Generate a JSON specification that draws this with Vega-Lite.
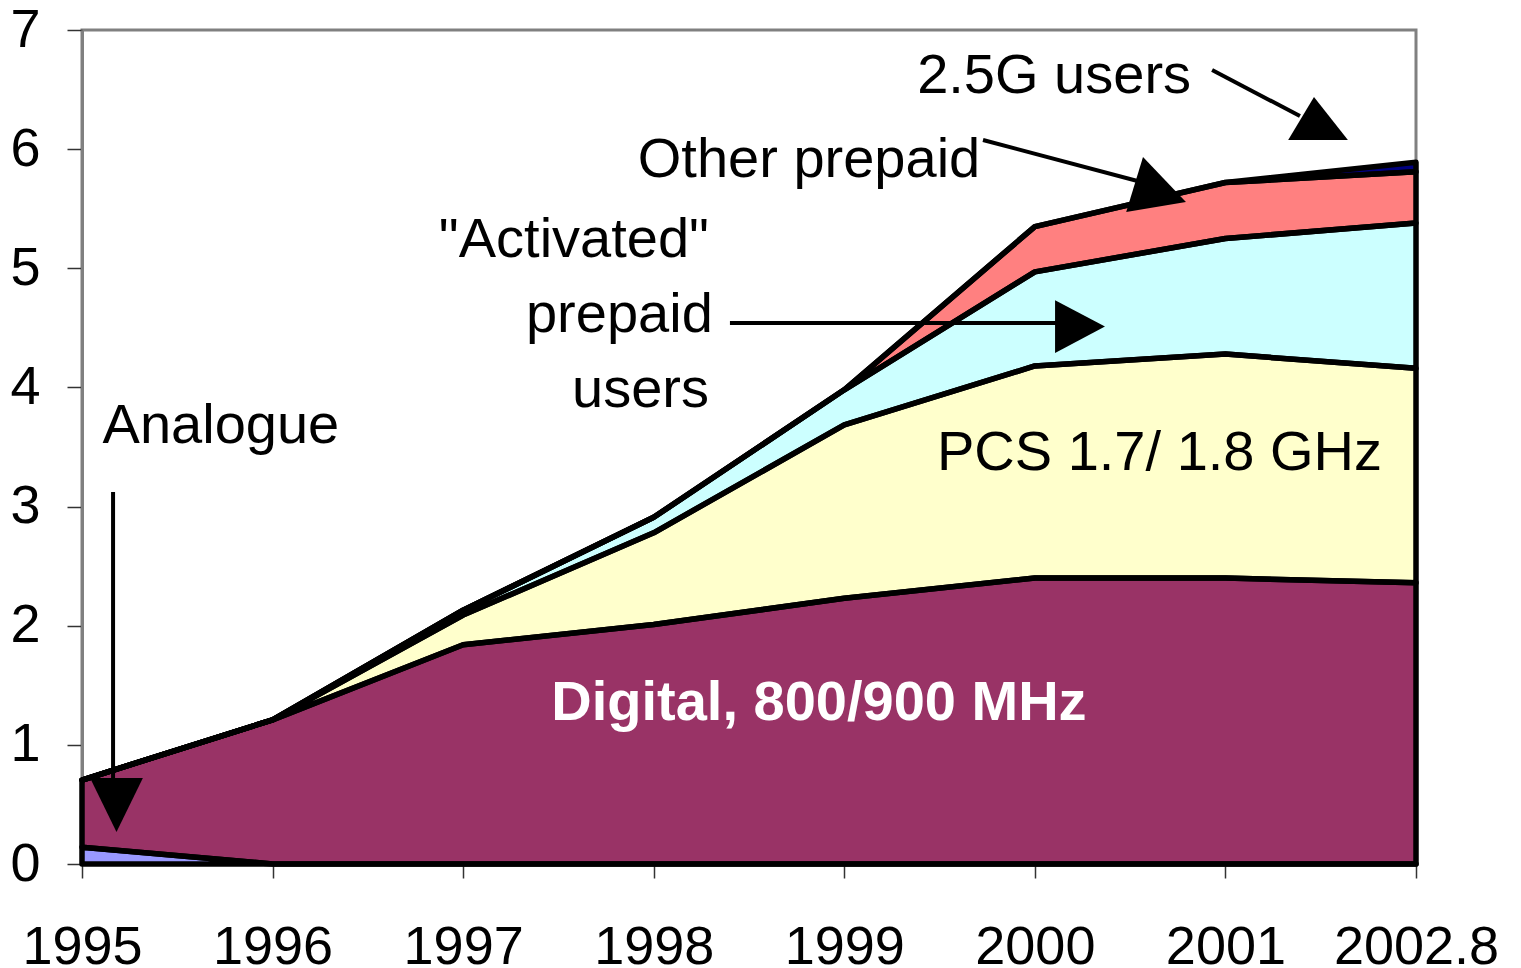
{
  "$schema": "https://vega.github.io/schema/vega-lite/v6.json",
  "width": 1334,
  "height": 834,
  "autosize": {"type": "none"},
  "padding": {"left": 82, "top": 30, "right": 105, "bottom": 104},
  "background": "white",
  "config": {
    "view": {"stroke": "#808080", "strokeWidth": 3},
    "axis": {
      "grid": false,
      "labelFont": "Liberation Sans",
      "labelFontSize": 54,
      "labelColor": "#000000",
      "tickColor": "#333333",
      "tickWidth": 1.5,
      "domainColor": "#808080",
      "domainWidth": 3,
      "title": null
    }
  },
  "datasets": {
    "series": [
      {"s": "Analogue", "ord": 0, "i": 0, "v": 0.14},
      {"s": "Analogue", "ord": 0, "i": 1, "v": 0},
      {"s": "Analogue", "ord": 0, "i": 2, "v": 0},
      {"s": "Analogue", "ord": 0, "i": 3, "v": 0},
      {"s": "Analogue", "ord": 0, "i": 4, "v": 0},
      {"s": "Analogue", "ord": 0, "i": 5, "v": 0},
      {"s": "Analogue", "ord": 0, "i": 6, "v": 0},
      {"s": "Analogue", "ord": 0, "i": 7, "v": 0},
      {"s": "Digital", "ord": 1, "i": 0, "v": 0.565},
      {"s": "Digital", "ord": 1, "i": 1, "v": 1.21},
      {"s": "Digital", "ord": 1, "i": 2, "v": 1.84},
      {"s": "Digital", "ord": 1, "i": 3, "v": 2.01},
      {"s": "Digital", "ord": 1, "i": 4, "v": 2.23},
      {"s": "Digital", "ord": 1, "i": 5, "v": 2.40},
      {"s": "Digital", "ord": 1, "i": 6, "v": 2.40},
      {"s": "Digital", "ord": 1, "i": 7, "v": 2.36},
      {"s": "PCS", "ord": 2, "i": 0, "v": 0},
      {"s": "PCS", "ord": 2, "i": 1, "v": 0},
      {"s": "PCS", "ord": 2, "i": 2, "v": 0.25},
      {"s": "PCS", "ord": 2, "i": 3, "v": 0.77},
      {"s": "PCS", "ord": 2, "i": 4, "v": 1.455},
      {"s": "PCS", "ord": 2, "i": 5, "v": 1.78},
      {"s": "PCS", "ord": 2, "i": 6, "v": 1.88},
      {"s": "PCS", "ord": 2, "i": 7, "v": 1.80},
      {"s": "Activated", "ord": 3, "i": 0, "v": 0},
      {"s": "Activated", "ord": 3, "i": 1, "v": 0},
      {"s": "Activated", "ord": 3, "i": 2, "v": 0.04},
      {"s": "Activated", "ord": 3, "i": 3, "v": 0.13},
      {"s": "Activated", "ord": 3, "i": 4, "v": 0.295},
      {"s": "Activated", "ord": 3, "i": 5, "v": 0.79},
      {"s": "Activated", "ord": 3, "i": 6, "v": 0.97},
      {"s": "Activated", "ord": 3, "i": 7, "v": 1.22},
      {"s": "Other", "ord": 4, "i": 0, "v": 0},
      {"s": "Other", "ord": 4, "i": 1, "v": 0},
      {"s": "Other", "ord": 4, "i": 2, "v": 0},
      {"s": "Other", "ord": 4, "i": 3, "v": 0},
      {"s": "Other", "ord": 4, "i": 4, "v": 0},
      {"s": "Other", "ord": 4, "i": 5, "v": 0.38},
      {"s": "Other", "ord": 4, "i": 6, "v": 0.47},
      {"s": "Other", "ord": 4, "i": 7, "v": 0.43},
      {"s": "G25", "ord": 5, "i": 0, "v": 0},
      {"s": "G25", "ord": 5, "i": 1, "v": 0},
      {"s": "G25", "ord": 5, "i": 2, "v": 0},
      {"s": "G25", "ord": 5, "i": 3, "v": 0},
      {"s": "G25", "ord": 5, "i": 4, "v": 0},
      {"s": "G25", "ord": 5, "i": 5, "v": 0},
      {"s": "G25", "ord": 5, "i": 6, "v": 0},
      {"s": "G25", "ord": 5, "i": 7, "v": 0.08}
    ],
    "arrows": [
      {"x": 5.930, "y": 6.664, "x2": 6.391, "y2": 6.278},
      {"x": 4.728, "y": 6.077, "x2": 5.578, "y2": 5.716},
      {"x": 3.400, "y": 4.541, "x2": 5.132, "y2": 4.541},
      {"x": 0.163, "y": 3.122, "x2": 0.163, "y2": 0.621}
    ],
    "heads": [
      {"x": 6.486, "y": 6.257, "dir": "up"},
      {"x": 5.636, "y": 5.703, "dir": "tilt"},
      {"x": 5.237, "y": 4.511, "dir": "right"},
      {"x": 0.181, "y": 0.495, "dir": "down"}
    ],
    "labels": [
      {"x": 5.101, "y": 6.471, "t": "2.5G users"},
      {"x": 3.815, "y": 5.766, "t": "Other prepaid"},
      {"x": 0.729, "y": 3.534, "t": "Analogue"},
      {"x": 5.654, "y": 3.307, "t": "PCS 1.7/ 1.8 GHz"}
    ],
    "labelsRight": [
      {"x": 3.290, "y": 5.095, "t": "\"Activated\""},
      {"x": 3.310, "y": 4.465, "t": "prepaid"},
      {"x": 3.290, "y": 3.836, "t": "users"}
    ],
    "labelsBold": [
      {"x": 3.867, "y": 1.209, "t": "Digital, 800/900 MHz"}
    ]
  },
  "layer": [
    {
      "data": {"name": "series"},
      "mark": {"type": "area", "opacity": 1, "fillOpacity": 1, "strokeWidth": 0},
      "encoding": {
        "x": {
          "field": "i", "type": "quantitative", "title": null,
          "scale": {"domain": [0, 7], "nice": false, "zero": false},
          "axis": {
            "values": [0, 1, 2, 3, 4, 5, 6, 7],
            "labelExpr": "['1995','1996','1997','1998','1999','2000','2001','2002.8'][datum.value]",
            "tickSize": 14, "labelPadding": 42, "labelFlush": false, "labelOverlap": false, "domain": false
          }
        },
        "y": {
          "field": "v", "type": "quantitative", "stack": "zero", "title": null,
          "scale": {"domain": [0, 7], "nice": false},
          "axis": {"values": [0, 1, 2, 3, 4, 5, 6, 7], "format": "d", "tickSize": 15, "labelPadding": 27, "labelBaseline": "middle"}
        },
        "color": {
          "field": "s", "type": "nominal", "legend": null,
          "scale": {
            "domain": ["Analogue", "Digital", "PCS", "Activated", "Other", "G25"],
            "range": ["#9999ff", "#993366", "#ffffcc", "#ccffff", "#ff8080", "#000080"]
          }
        },
        "order": {"field": "ord", "type": "quantitative"}
      }
    },
    {
      "data": {"name": "series"},
      "mark": {"type": "area", "fill": "transparent", "fillOpacity": 0, "stroke": "black", "strokeWidth": 5.5, "strokeJoin": "round"},
      "encoding": {
        "x": {"field": "i", "type": "quantitative", "title": null},
        "y": {"field": "v", "type": "quantitative", "stack": "zero", "title": null},
        "detail": {"field": "s", "type": "nominal"},
        "order": {"field": "ord", "type": "quantitative"}
      }
    },
    {
      "data": {"name": "arrows"},
      "mark": {"type": "rule", "color": "black", "strokeWidth": 4},
      "encoding": {
        "x": {"field": "x", "type": "quantitative", "title": null},
        "y": {"field": "y", "type": "quantitative", "title": null},
        "x2": {"field": "x2"},
        "y2": {"field": "y2"}
      }
    },
    {
      "data": {"name": "heads"},
      "mark": {"type": "point", "filled": true, "color": "black", "opacity": 1, "size": 3364, "strokeWidth": 0},
      "encoding": {
        "x": {"field": "x", "type": "quantitative", "title": null},
        "y": {"field": "y", "type": "quantitative", "title": null},
        "shape": {
          "field": "dir", "type": "nominal", "legend": null,
          "scale": {
            "domain": ["up", "tilt", "right", "down"],
            "range": [
              "M-0.14,-0.74L1.03,0.74L-1.03,0.74Z",
              "M-0.45,-0.95L1.03,0.6L-1.03,0.95Z",
              "M0.86,0L-0.86,0.91L-0.86,-0.91Z",
              "M0,0.93L-0.91,-0.93L0.91,-0.93Z"
            ]
          }
        }
      }
    },
    {
      "data": {"name": "labels"},
      "mark": {"type": "text", "font": "Liberation Sans", "fontSize": 56, "align": "center", "baseline": "alphabetic", "color": "black"},
      "encoding": {
        "x": {"field": "x", "type": "quantitative", "title": null},
        "y": {"field": "y", "type": "quantitative", "title": null},
        "text": {"field": "t"}
      }
    },
    {
      "data": {"name": "labelsRight"},
      "mark": {"type": "text", "font": "Liberation Sans", "fontSize": 56, "align": "right", "baseline": "alphabetic", "color": "black"},
      "encoding": {
        "x": {"field": "x", "type": "quantitative", "title": null},
        "y": {"field": "y", "type": "quantitative", "title": null},
        "text": {"field": "t"}
      }
    },
    {
      "data": {"name": "labelsBold"},
      "mark": {"type": "text", "font": "Liberation Sans", "fontSize": 56, "fontWeight": "bold", "align": "center", "baseline": "alphabetic", "color": "white"},
      "encoding": {
        "x": {"field": "x", "type": "quantitative", "title": null},
        "y": {"field": "y", "type": "quantitative", "title": null},
        "text": {"field": "t"}
      }
    }
  ]
}
